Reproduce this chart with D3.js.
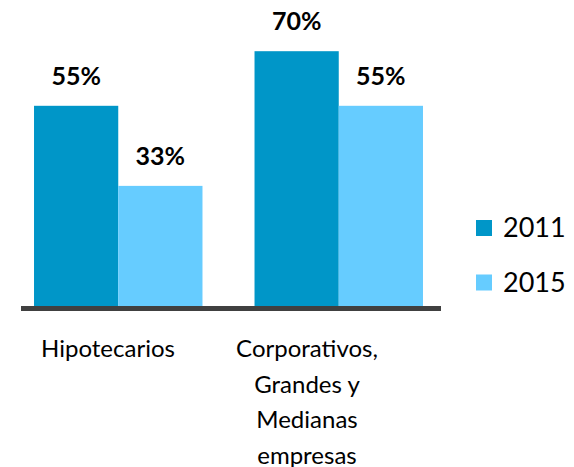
<!DOCTYPE html>
<meta charset="utf-8">
<style>
body { margin: 0; background: #fff; }
text { font-family: Lato, "Open Sans", sans-serif; fill: #000; }
.val { font-weight: bold; font-size: 25px; }
.cat { font-size: 24px; }
.leg { font-size: 27px; }
</style>
<body>
<script src="https://d3js.org/d3.v7.min.js"></script>
<script>
// data
var categories = ["Hipotecarios", "Corporativos, Grandes y Medianas empresas"];
var catLines = [["Hipotecarios"], ["Corporativos,", "Grandes y", "Medianas", "empresas"]];
var years = ["2011", "2015"];
var values2011 = [55, 70];
var values2015 = [33, 55];
var colors = ["#0096c8", "#66ccff"];

var width = 574, height = 467;
var baseY = 306;

var svg = d3.select("body").append("svg")
    .attr("width", width)
    .attr("height", height);

// scales
var x0 = d3.scaleBand()
    .domain(categories)
    .range([8, 449])
    .paddingInner(0.236)
    .paddingOuter(0.118);

var x1 = d3.scaleBand()
    .domain(years)
    .range([0, x0.bandwidth()]);

var y = d3.scaleLinear()
    .domain([0, 100])
    .range([baseY, baseY - 364]);

// label positions under axis (text sits a bit left of the bars)
var xLabel = d3.scalePoint()
    .domain(categories)
    .range([108, 307]);

var color = d3.scaleOrdinal().domain(years).range(colors);

var rows = categories.map(function(c, i) {
  return {cat: c, vals: [
    {year: "2011", v: values2011[i]},
    {year: "2015", v: values2015[i]}
  ]};
});

var groups = svg.selectAll(".grp")
    .data(rows)
  .enter().append("g")
    .attr("class", "grp")
    .attr("transform", function(d) { return "translate(" + x0(d.cat) + ",0)"; });

groups.selectAll("rect")
    .data(function(d) { return d.vals; })
  .enter().append("rect")
    .attr("x", function(d) { return x1(d.year); })
    .attr("y", function(d) { return y(d.v); })
    .attr("width", x1.bandwidth())
    .attr("height", function(d) { return baseY - y(d.v); })
    .attr("fill", function(d) { return color(d.year); });

groups.selectAll(".val")
    .data(function(d) { return d.vals; })
  .enter().append("text")
    .attr("class", "val")
    .attr("x", function(d) { return x1(d.year) + x1.bandwidth() / 2; })
    .attr("y", function(d) { return y(d.v) - 21; })
    .attr("text-anchor", "middle")
    .text(function(d) { return d.v + "%"; });

// axis line
svg.append("rect")
    .attr("x", 21)
    .attr("y", baseY)
    .attr("width", 420)
    .attr("height", 5)
    .attr("fill", "#404040");

// category labels
categories.forEach(function(c, i) {
  var t = svg.append("text")
      .attr("class", "cat")
      .attr("text-anchor", "middle")
      .attr("x", xLabel(c))
      .attr("y", 357);
  catLines[i].forEach(function(line, j) {
    t.append("tspan")
        .attr("x", xLabel(c))
        .attr("dy", j === 0 ? 0 : 35.5)
        .text(line);
  });
});

// legend
var leg = svg.selectAll(".legitem")
    .data(years)
  .enter().append("g")
    .attr("class", "legitem")
    .attr("transform", function(d, i) { return "translate(476," + (220 + i * 54.5) + ")"; });

leg.append("rect")
    .attr("width", 16)
    .attr("height", 16)
    .attr("fill", function(d) { return color(d); });

leg.append("text")
    .attr("class", "leg")
    .attr("x", 27)
    .attr("y", 17)
    .text(function(d) { return d; });
</script>
</body>
